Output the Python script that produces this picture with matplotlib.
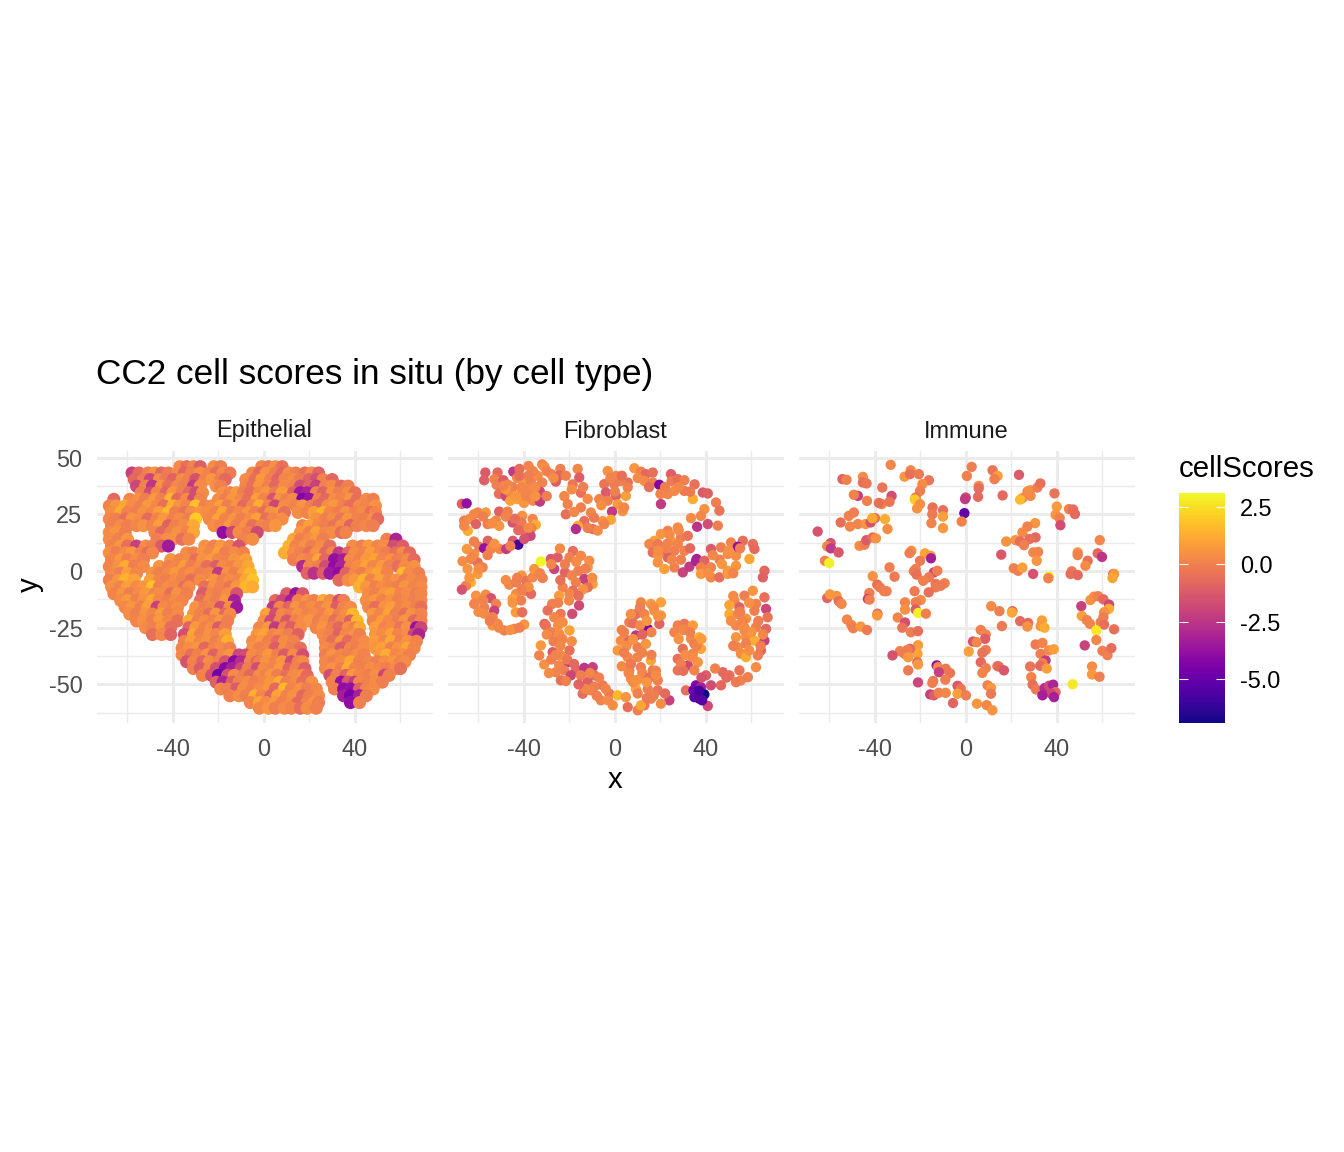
import matplotlib
matplotlib.use('Agg')
import matplotlib.pyplot as plt
from matplotlib.cm import ScalarMappable
from matplotlib.colors import Normalize

plt.rcParams['font.family'] = ['Liberation Sans', 'DejaVu Sans']
plt.rcParams['axes.unicode_minus'] = False

# Epithelial (y, then x and score of each cell)
epi_row_y = [46, 43.2, 40.3, 37.4, 34.5, 31.6, 28.7, 25.8, 22.9, 20, 17, 14, 11, 8, 5, 2, -1, -4, -7, -10, -13, -16, -19,
             -22, -25, -28, -31, -34, -37, -40, -43, -46, -49, -52, -55, -58, -60.5]
e01_x = [-37, -34, -31, -28, -22, -19, -1, 2, 5, 8]
e01_s = [.6, -.3, .4, -.8, .7, .2, .5, .1, .8, -.2]
e02_x = [-58, -55, -51, -48, -45, -42, -38, -35, -32, -28, -24, -21, -18, -15, -5, -2, 1, 5, 8, 11, 14, 18, 21, 24]
e02_s = [-1.8, -.4, .3, .8, -.5, .1, .6, -.6, .2, .7, .4, -.3, .6, .1, .5, -.4, .8, .2, -.5, .7, .3, -.2, .6, -.6]
e03_x = [-57, -53, -50, -46, -43, -40, -36, -33, -30, -26, -23, -19, -17, -8, -4, -1, 3, 6, 9, 13, 16, 20, 23, 26, 30]
e03_s = [-.5, .2, -1.6, .6, .1, -.6, .7, .3, -1.2, .4, .9, .2, -.4, .6, -.2, 1.0, .3, -.6, .5, .7, .1, -.7, -1.3, .4, -.5]
e04_x = [-56, -52, -49, -45, -42, -38, -35, -31, -28, -21, -19, -8, -5, -2, 2, 5, 9, 13, 16, 20, 23, 27, 30, 34, 37]
e04_s = [-1.6, .4, -2.2, .8, -.3, .5, .2, -2, .6, .7, .3, .5, -.2, .9, .3, -.5, .6, .4, -1.4, -.6, -1.8, .3, .6, -.4, .2]
e05_x = [-54, -50, -47, -43, -40, -36, -33, -30, -27, -18, -15, -12, -9, -6, -2, 1, 5, 8, 13, 16, 19, 23, 26, 30, 33, 37, 40]
e05_s = [.3, -1.5, .5, -.6, .9, .2, -.5, -1.4, .6, .8, .4, 1.0, .2, -.3, .6, .9, .1, 1.1, -.7, -3.2, -2.8, .4, -.6, .8, .2, .7, -.2]
e06_x = [-66, -59, -55, -52, -48, -45, -41, -38, -34, -31, -28, -20, -17, -14, -10, -7, -3, 0, 4, 7, 10, 13, 17, 20, 24, 27, 31, 34, 38, 41, 45, 48]
e06_s = [-.5, .5, .8, .2, 1.0, .3, 1.8, -.4, .6, -1.4, .4, .7, .2, .9, .5, -.2, 1.2, .4, -1.2, .8, .3, .6, -4, -3.4, .2, -.5, .7, .4, .9, -.3, .6, .2]
e07_x = [-68, -65, -61, -58, -54, -51, -47, -44, -40, -37, -34, -30, -26, -23, -19, -16, -12, -9, -5, -2, 2, 5, 9, 14, 17, 21, 24, 28, 31, 35, 38, 42, 45, 49]
e07_s = [.4, .9, 1.4, .6, .2, 1.0, .5, -.2, 1.6, .8, .4, 2.1, .3, .6, 1.2, .2, .8, -.4, .5, 1.6, .3, -1.6, .6, .4, .9, .2, -.5, .7, 1.0, .3, -.3, .6, .4, .8]
e08_x = [-67, -63, -60, -56, -53, -49, -46, -42, -39, -35, -32, -28, -25, -21, -18, -14, -11, -7, -4, 0, 3, 7, 9, 15, 19, 22, 26, 29, 33, 36, 40, 43, 47, 49]
e08_s = [.7, 1.5, .4, .2, .8, .5, 1.1, 1.9, .3, -.1, .6, .9, .7, .4, 1.4, .2, .5, .9, .3, -.3, .8, 1.0, -.2, .7, .4, 1.2, 1.7, .5, .2, .8, .3, .6, -.2, .4]
e09_x = [-68, -65, -61, -58, -54, -51, -47, -44, -40, -37, -33, -30, -24, -20, -17, -13, -10, -6, -3, 1, 4, 8, 23, 27, 30, 34, 37, 41, 44, 48, 50]
e09_s = [.5, .2, -.3, .9, .6, -.4, .4, 1.0, .3, .7, .2, 2.3, .5, 1.3, .4, .8, .2, .6, 1.2, -.3, .5, .7, .8, .3, .6, -.1, .9, .4, .2, .7, -.4]
e10_x = [-67, -63, -60, -56, -53, -49, -46, -42, -39, -35, -31, -22, -19, -15, -12, -8, -5, -1, 2, 5, 17, 20, 24, 27, 31, 34, 38, 41, 45, 48]
e10_s = [.3, .7, .2, .5, .8, .4, 1.1, -.7, .3, .6, 1.5, .7, .4, 1.0, .2, .8, -.2, .5, .3, .9, .4, 1.2, .6, .2, -.1, .7, -.6, .3, .5, .2]
e11_x = [-68, -65, -61, -48, -45, -41, -38, -34, -31, -18, -14, -11, -7, -3, 16, 20, 23, 27, 30, 34, 36]
e11_s = [.6, .9, .2, .5, -.5, .3, .8, .4, 1.4, -3.6, -1.6, .6, .2, -1.5, 1.0, .3, 1.2, .5, .7, -.3, .4]
e12_x = [-68, -64, -60, -47, -43, -40, -36, -33, -9, -5, 13, 16, 20, 23, 26, 54, 58]
e12_s = [.7, .3, .9, .2, .6, .8, -.2, .5, .4, .7, 1.4, .3, .6, 1.0, .2, .3, -2.8]
e13_x = [-67, -63, -60, -56, -52, -49, -45, -42, -26, -22, -19, -15, -11, 11, 14, 18, 21, 25, 29, 39, 43, 46, 50, 53, 57, 61]
e13_s = [.4, .9, -.2, -1.8, .6, .3, -.9, -3.2, .8, .3, 1.0, .5, -1.2, 1.7, .4, .8, .2, .6, -.3, .7, .2, 1.0, .4, .7, -1.4, -.8]
e14_x = [-68, -65, -61, -58, -54, -51, -49, -34, -31, -27, -24, -20, -17, -13, -9, 9, 13, 16, 20, 23, 27, 30, 33, 37, 40, 44, 47, 51, 54, 58, 61, 64]
e14_s = [.8, .2, .6, 1.0, .4, -.3, .5, .7, .3, .9, .5, 1.2, .2, .6, .4, 1.6, .7, .3, -.2, .8, -.4, .5, -2, -.6, .7, .4, 1.1, .5, .2, -.3, .6, -.4]
e15_x = [-67, -63, -60, -56, -53, -41, -37, -34, -30, -27, -23, -20, -16, -13, -8, 13, 17, 20, 24, 27, 31, 35, 38, 42, 45, 49, 52, 56, 59, 63, 66]
e15_s = [.5, 1.0, .3, .7, .2, .9, .4, .6, -.2, .8, 1.0, .5, .3, .9, 1.2, .2, .7, .4, 1.4, -.5, -3.5, -3, .6, .3, 1.0, 1.3, .5, .8, .2, .6, -.4]
e16_x = [-68, -64, -61, -57, -53, -46, -42, -39, -35, -32, -28, -25, -21, -18, -14, -11, -7, 17, 20, 24, 27, 31, 34, 38, 41, 45, 48, 52, 55, 59, 62, 66]
e16_s = [.4, .8, 1.5, .2, .6, .9, .3, .5, 1.1, .2, .7, -.3, -.8, .6, .4, .9, 1.4, -2.6, .5, .2, -1.4, -3.6, -2.8, .4, .7, 1.3, .5, 1.0, .3, -.2, .6, .8]
e17_x = [-67, -63, -60, -56, -49, -46, -42, -39, -35, -32, -28, -24, -20, -16, -13, -9, -6, 19, 22, 26, 29, 33, 36, 40, 43, 47, 50, 54, 61, 64, 68]
e17_s = [.6, .2, 1.2, .5, .8, .3, .6, 1.0, .4, .7, .2, .5, -2, .8, .3, 1.2, 1.8, -.6, -2.3, -.8, -3.2, -3.6, -.6, .5, .2, .9, 1.3, .4, 1.9, .6, .2]
e18_x = [-68, -64, -61, -57, -50, -46, -43, -39, -36, -32, -28, -22, -18, -15, -11, -8, -5, 33, 37, 40, 44, 47, 51, 55, 58, 62, 65, 69]
e18_s = [.3, .9, 1.7, 1.3, 1.2, .5, .2, .7, .4, -.2, .6, .9, .3, .7, .5, 1.4, 2.1, -.5, .6, 1.0, 1.8, .4, 1.2, .5, .8, .2, .6, .4]
e19_x = [-67, -63, -60, -56, -53, -49, -46, -42, -39, -35, -33, -26, -22, -19, -15, -12, -8, -5, 42, 45, 49, 52, 55, 59, 62, 66, 69]
e19_s = [.8, .4, 1.2, .6, .9, 2.1, .3, .7, .5, -.2, .6, -.2, .8, .4, -.1, .9, 1.8, 1.5, 1.7, 1.0, .3, .7, .5, .2, .9, .4, .6]
e20_x = [-66, -62, -59, -55, -52, -48, -46, -41, -38, -34, -27, -23, -20, -16, -12, 10, 14, 17, 46, 49, 53, 56, 60, 63, 67, 69]
e20_s = [.4, .9, .2, .6, 1.0, .5, .7, -.2, .8, .3, -.9, .5, .2, .7, -1.2, -.8, -3.4, -1, .6, .3, .9, 1.2, .4, .7, .2, .5]
e21_x = [-63, -60, -56, -53, -49, -46, -42, -39, -36, -28, -24, -21, -17, -13, 5, 8, 12, 15, 19, 22, 26, 29, 33, 35, 45, 49, 52, 56, 59, 63, 66, 69]
e21_s = [.6, 1.0, .3, .8, 1.4, .5, .2, .7, .4, -.3, .6, .2, .9, -3, -.4, -1.6, -3, .4, .8, .3, 1.5, .6, -1.2, .2, .7, 1.0, .4, .8, .3, .6, .2, .5]
e22_x = [-61, -58, -54, -51, -47, -44, -40, -38, -30, -26, -23, -19, -15, -12, 4, 7, 11, 14, 18, 21, 25, 28, 32, 35, 38, 46, 49, 53, 56, 60, 63, 67, 69]
e22_s = [.5, .9, .3, 1.2, -1.8, .6, .4, .7, .8, .2, .5, -1.3, .7, -3.2, -2, .4, -.6, .8, .3, .7, .2, .9, -.8, .4, .6, .5, -.3, .8, 1.1, .4, .7, .3, -.2]
e23_x = [-59, -56, -52, -49, -45, -42, -38, -31, -28, -24, -21, -17, -15, 1, 5, 8, 12, 15, 19, 22, 26, 29, 33, 36, 39, 48, 51, 55, 58, 62, 65, 69]
e23_s = [.7, .3, .9, .5, 1.1, .2, .6, .8, .4, -.3, .9, -.5, .6, 1.3, -1.4, .5, .2, .8, .4, .6, .3, 1.0, .2, .7, 1.8, 1.0, .5, 1.3, .3, -.2, .8, .4]
e24_x = [-56, -53, -49, -46, -42, -38, -33, -29, -26, -22, -19, -16, 0, 3, 7, 10, 14, 17, 20, 24, 27, 31, 34, 38, 41, 48, 52, 55, 59, 62, 66, 69]
e24_s = [.4, .8, .2, 1.0, .5, -.2, 1.5, .3, .7, .4, .9, .2, .8, -1.5, .5, -1, .3, .6, .9, .2, .7, -.3, .5, -.7, 1.8, .4, 1.1, .6, .2, .9, -.5, .3]
e25_x = [-52, -49, -45, -41, -33, -30, -26, -23, -20, -17, -2, 2, 5, 9, 12, 16, 23, 26, 30, 33, 37, 40, 42, 49, 53, 56, 60, 63, 67, 69]
e25_s = [.6, .3, .9, -.3, -.6, 1.0, .4, .7, -.9, .2, .5, 1.0, -2, .3, -.8, .6, .4, .9, .2, -.5, .7, .3, 1.4, 1.2, .4, .7, -.1, .8, -3.4, -1.6]
e26_x = [-49, -45, -41, -35, -31, -28, -24, -21, -17, -3, 0, 4, 7, 11, 15, 26, 29, 33, 36, 40, 42, 49, 52, 56, 59, 63, 66, 68]
e26_s = [-.2, .5, -.6, -1.3, 1.4, .3, .8, .5, 1.2, .9, 1.3, .4, .7, .2, -.7, .6, .3, -.7, .5, .8, .2, 1.0, .6, 1.3, .4, .7, -1.6, -2.8]
e27_x = [-35, -32, -28, -25, -21, -18, -16, -5, -1, 2, 6, 9, 13, 27, 30, 34, 37, 41, 44, 49, 53, 56, 60, 63, 67]
e27_s = [.4, 1.2, .5, .8, .2, .7, 1.7, .6, 1.0, .3, -.4, .7, .4, .5, -.2, .9, -.4, .3, .6, 1.1, .5, 1.4, .3, .8, .4]
e28_x = [-36, -33, -29, -26, -22, -19, -15, -5, -2, 2, 5, 9, 12, 16, 27, 31, 34, 38, 41, 44, 49, 52, 56, 59, 63, 66]
e28_s = [.3, .7, .9, -.5, .4, .6, .2, .8, .3, .5, -.8, .7, .2, -.3, .6, .3, -.9, .5, .2, .7, .9, 1.2, .3, .8, 1.4, .5]
e29_x = [-36, -32, -29, -25, -22, -18, -15, -11, -8, -5, -1, 2, 6, 9, 13, 17, 27, 30, 34, 37, 41, 44, 51, 54, 58, 61, 64]
e29_s = [.5, -.2, .3, .8, -.7, .5, .9, -1.6, -1.4, .7, .4, 1.0, .3, -.9, .6, -1.3, .2, .8, .5, .3, .7, .4, 1.0, 1.6, .5, .7, .3]
e30_x = [-34, -31, -27, -24, -20, -17, -13, -10, -6, -3, -2, 1, 5, 8, 12, 15, 17, 27, 31, 34, 38, 42, 46, 50, 53, 57, 60, 62]
e30_s = [-1.2, .4, -.6, .7, .3, -1.2, -3.8, -2.5, .5, -.6, .2, .8, .4, .9, -1.5, .3, .6, .5, .2, .7, 1.4, .3, .5, .2, .7, .9, .4, .6]
e31_x = [-31, -28, -24, -21, -17, -14, -10, -7, -3, 0, 4, 7, 11, 14, 18, 27, 30, 34, 37, 40, 44, 47, 51, 54, 58, 60]
e31_s = [.3, -.9, .5, -1.3, -3.8, -3, -1.5, .2, -1.4, .6, .4, 1.0, -.6, .3, -.8, .5, .8, .2, 1.6, .4, .3, .7, .5, .2, .6, -.2]
e32_x = [-27, -23, -20, -16, -13, -9, -6, -2, 1, 3, 6, 10, 13, 17, 19, 29, 32, 36, 39, 42, 46, 49, 53, 55]
e32_s = [.4, -1.3, -4.5, -1.2, .6, .3, -.5, .7, .4, .9, .2, -.3, .6, .8, -.4, -1.4, .3, -.6, 1.0, .5, .2, .7, -1.7, .3]
e33_x = [-21, -18, -14, -11, -7, -4, 0, 3, 7, 10, 14, 17, 21, 30, 34, 37, 40, 42, 46, 49, 52]
e33_s = [-.7, -2.8, -.8, .4, .7, .2, .5, .9, 1.6, .3, .6, -.3, .8, .4, -3.5, -1, -2, .5, .3, .7, .2]
e34_x = [-19, -16, -12, -9, -5, -2, 2, 5, 9, 12, 16, 19, 23, 31, 35, 38, 42, 45, 48]
e34_s = [.5, .2, -.9, .7, .3, .6, 1.0, -.4, 1.9, .4, .8, .2, .5, .3, -3.6, -3.5, -.8, .4, .6]
e35_x = [-15, -11, -8, -4, -1, 3, 6, 10, 13, 17, 20, 24, 35, 38, 42, 45]
e35_s = [.3, .7, .2, 1.6, .5, -.6, 1.3, .4, .8, -.5, .3, .6, -3, -4.2, -3, .2]
e36_x = [-6, -2, 1, 5, 8, 12, 15, 19, 22, 24, 38, 42]
e36_s = [.4, 1.4, .6, 1.0, .3, .7, -.5, .4, .8, .2, -3.6, .3]
e37_x = [-2, 2, 5, 9, 12, 16, 19, 23]
e37_s = [.5, .9, .2, .6, .4, -.3, .7, .3]

# Fibroblast, cluster by cluster
fib_a_x = [-57, -57.5, -51.6, -53, -52, -49, -44.7, -42, -38, -32, -31, -28, -24, -24.6, -26, -43, -40, -37, -34, -32, -45, -41, -37, -33, -51, -48, -43, -40, -36, -33, -38, -46]
fib_a_y = [43.4, 40, 43.4, 40.5, 38, 40, 43.8, 45, 46.3, 47, 46, 42.7, 45, 42, 39.4, 41, 39, 39.7, 42, 39, 37, 35, 36, 35, 34, 33, 31.7, 30, 31, 30.6, 33, 34.6]
fib_a_s = [-.9, -.8, -.4, .4, .2, -.8, -2, -.3, .4, .5, .7, .3, .3, -.6, -.8, .5, 1, .3, .6, .4, .2, .7, .5, -1.5, -.2, -1.5, 1.2, .9, .6, -2, .4, .3]
fib_b_x = [-21.6, -16.4, -15.7, -18.6, -22.3, -20.8, -21.6, -15, -12, -15, -13.5, -10.6, -16.4, -17.2, -9.8, -7.6, -5.4, -9.2]
fib_b_y = [42, 45, 41.2, 38.2, 33, 29.5, 25, 34.5, 31.8, 28, 22, 25.8, 19.9, 18.5, 18.5, 17.8, 22, 23.5]
fib_b_s = [.3, .5, -.8, 0, .5, .3, -.2, -.3, .6, .2, -.3, .5, 1.6, -2.5, -.2, .6, .9, .1]
fib_c_x = [-3.2, .4, -4.7, -.3, 5.6, -4, .4, 4.8, -6.9, -3.2, 1.2, -1.3, 3.4, -1.8, -4.7, 5.6, 2.6]
fib_c_y = [44.1, 41.9, 38.3, 38.3, 39, 34.6, 33.1, 33.1, 31.7, 31, 29.4, 26.2, 26.4, 22.6, 20.7, 36.9, 39.7]
fib_c_s = [.8, .5, -.1, .1, -.3, -.9, -.7, 1.2, .4, .3, 1, -2, .8, 1.4, .4, .3, .2]
fib_d_x = [8.5, 11.4, 13.6, 16.6, 12.9, 16.6, 19.5, 24.6, 24.9, 27.6, 30.5, 35, 26.1, 30.5, 23.2, 20.2, 38.6, 34.2, 40.8, 44.4, 39.3, 45.9, 37.8, 40.8, 45.2, 33.4, 36.1]
fib_d_y = [45.3, 43.8, 42.7, 43.4, 39.7, 39, 38, 42.7, 39.7, 40.5, 40, 38.2, 35.3, 35.3, 33.9, 29.5, 34.6, 31.7, 34.2, 30.2, 27.3, 26.6, 24.3, 20.7, 20, 23.3, 19.5]
fib_d_s = [.9, .3, -.5, -.2, .6, .2, -4, -.8, .1, -.3, .3, -.2, .6, .1, .5, -2, -.9, 1.5, -.7, .2, .8, -.1, .5, -1.4, .2, .6, -2.3]
fib_e_x = [27.6, 23.2, 20.2, 17.3, 15.1, 18.8, 24.6, 29, 32, 21.7, 26.1, 30.5, 16.6, 23.2, 18.8, 21.7, 26.1, 29.8, 32.7, 35.9, 35.6, 27.6]
fib_e_y = [19.2, 17.7, 16.3, 13.3, 11.9, 11.9, 13.3, 14.8, 15.5, 8.2, 8.9, 8.9, 8.2, 6, 3.8, .9, 1.6, -.6, 1.9, 5.3, 4.3, 11.9]
fib_e_s = [.7, .3, .9, 1.3, .5, .1, .9, .2, -.1, -.5, .2, .4, -.2, -.7, .8, 1.2, .3, -1.7, -2, -3, -2.8, .4]
fib_f_x = [42.2, 46.6, 51, 56.2, 60.6, 61.3, 49.6, 53.2, 59.1, 39.3, 53.2, 37.8, 42.2, 49.6, 37.8, 42.2, 45.9, 49.6, 65.7, 65, 54]
fib_f_y = [9.7, 10.4, 12.6, 13.3, 11.9, 9.7, 7.5, 6.7, 5.3, 4.5, 2.3, 1.6, 1.6, .1, -1.3, -2.8, -2.8, -1.3, .1, -2.8, 10.7]
fib_f_s = [-.9, .2, .5, -.3, -.2, -.4, .6, .7, 1.4, -.6, .9, .3, .4, 1.1, 1, .5, -.3, 1, -.5, -.7, -3.5]
fib_g_x = [60.6, 56.9, 65.7, 52.5, 50.3, 54.7, 62, 66.4, 50.3, 54, 61.3, 57.6, 67.1, 53.2, 56.9, 62, 66.4, 53.2, 57.6, 61.3, 65.7, 54, 57.6, 64.2, 55.4, 57.6, 62.8]
fib_g_y = [-8.7, -10.9, -11.6, -13, -15, -16, -14.5, -16.7, -19, -19, -17.5, -21, -20.4, -24, -26.2, -24.8, -25.5, -29.2, -29.2, -30.7, -30.7, -33.6, -32, -35, -36.5, -38, -37.2]
fib_g_s = [.9, .2, -.2, .5, 1.3, -.7, .3, -1.6, 1.5, .5, .2, .8, -.1, .5, .7, .3, -.5, .9, .6, 1.6, -1.8, .7, .3, -.5, .6, 1.5, .2]
fib_h_x = [27.6, 30.5, 34.2, 26.1, 33.4, 37.1, 29.8, 37.8, 34.9, 27.6, 36.4, 34.2, 27.6, 32, 34.9]
fib_h_y = [-24, -23.3, -24, -27, -29.9, -29.2, -34.3, -34.3, -32.1, -38.7, -40.2, -36.5, -43.8, -41.6, -43.8]
fib_h_s = [.3, .1, 1.1, .4, .6, 1.6, -.2, 1.3, .2, -.2, .9, .5, -.1, -1.5, .4]
fib_i_x = [35.6, 37.8, 36.4, 39.3, 37.1, 40.8, 31.2, 42.2, 46.6, 47.4, 50.3, 54.7, 55.4, 58.4, 62, 53.2, 34.9, 34.5, 37, 38.3]
fib_i_y = [-50.4, -51.2, -54.1, -54.4, -56.3, -59.5, -52.6, -50.4, -50.4, -44.6, -46, -43.8, -48.2, -46.8, -42.4, -49, -55.6, -52.6, -52.8, -57]
fib_i_s = [-4, -3, -5, -6.5, -5.5, -1.5, -.3, -1.4, -.5, -.5, -.2, -.1, .4, .2, .6, .1, -5, -4.5, -5.5, -5]
fib_j_x = [11.4, 15.8, 20.2, 9.2, 12.9, 17.3, 20.2, 6.3, 14.4, 19.5, 9.2, 2.6, 6.3, 1.2, 9.9, 13.6, 5.6, 9.9, 15.8, 6.3, 11.4, 16.6, 7, 12.9, 18.8, 9.2, 14.4, 18.8, 23.9, 20.2, 15.8, 12.9]
fib_j_y = [-13.8, -14.5, -13.8, -19, -19, -17.5, -19.6, -22.6, -25.5, -23.3, -28.4, -30.7, -30.7, -35, -33.6, -32.1, -38, -38, -39.4, -43.8, -42.4, -43.8, -47.5, -46.8, -48.2, -52, -52, -52.6, -57, -58.5, -56.3, -59.2]
fib_j_s = [.5, 1, 1.3, -.3, .4, .8, 1, .2, -4, -.6, -2.2, .7, -.4, 1, .2, .9, .5, .4, 1.4, .3, .2, .1, .8, -.1, .3, 1.3, .2, -.1, -1.8, .7, .3, -.1]
fib_k_x = [-66.3, -64, -60.3, -56.8, -50.9, -47.2, -52.3, -56, -61.1, -64.7, -66.3, -45, -40.8, -36.2, -34.8, -41.1, -50.9, -39.9, -42.5, -36.8, -37.1, -67.3, -65.2]
fib_k_y = [22.2, 22.9, 25.8, 25.8, 26.2, 26.2, 22.2, 20.7, 20.7, 17.7, 19.9, 21.4, 24.3, 22.9, 20.4, 21.4, 19.9, 17.7, 18, 18.9, 15.5, 29.6, 29.8]
fib_k_s = [.3, .6, .4, 1, -.7, .3, .5, .2, -.7, 1.5, .5, -1.2, .8, .5, 1.6, .1, .9, -.2, -.5, .3, -1.5, -.8, -3.5]
fib_l_x = [-65.1, -61.9, -59.7, -55.9, -57.5, -54.6, -50.7, -47.8, -44.9, -42.5, -39.9]
fib_l_y = [9.7, 7.5, 10.7, 13.3, 10, 9.7, 9.7, 9.7, 13.3, 11.6, 14.1]
fib_l_s = [1, .7, .3, -.7, -3.5, .4, .5, -2, -1, -5.5, -1.2]
fib_m_x = [-67, -63.3, -60.4, -58.2, -64.8, -60.4, -63.3, -65.5, -67.3]
fib_m_y = [4.3, 5.3, 3.8, 1.6, .9, -1.3, -5, -6.5, -8.2]
fib_m_s = [.7, .5, -.2, .3, .9, 1.1, 1.7, .3, -1.2]
fib_n_x = [-61.1, -56.8, -61.9, -57.5, -54.5, -52.3, -57.5, -53.1, -53.8, -51.6, -53.8, -48.7, -44.3, -39.9, -43.6, -40.8]
fib_n_y = [-10.9, -10.4, -14.5, -16, -12, -14.5, -18.8, -17.5, -20.4, -23.3, -24, -26.2, -25.5, -23.6, -18.2, -18.2]
fib_n_s = [.8, .7, .4, .2, -1.2, .3, .6, -1.8, .4, .5, .8, .3, .4, .9, 1.1, -.2]
fib_o_x = [-41, -46.5, -43.5, -39.1, -36.2, -31.8, -43.5, -39.9, -36.9, -45, -41.3]
fib_o_y = [-2, -6, -5, -4.3, -2.8, -3.1, -10.1, -8.7, -10.1, -12.3, -13]
fib_o_s = [1, .5, .2, -.1, .5, .3, .6, .1, -.4, 1.3, .2]
fib_p_x = [-32.6, -35.5, -28.2, -25.2, -26.7, -24.2, -18.5, -20, -11.3, -15, -22, -16.1, -12, -13.5, -17.2, -9.8, -23, -18.5, -12, -24.6, -20.2, -15.8, -27.6, -23.9, -18.8, -29.6, -31]
fib_p_y = [4.2, .9, 5.3, 6, .9, 9.9, 8.8, 6, 4.5, 6.7, -.6, .1, 1.6, -3.5, -5, -5.7, -7.2, -8.7, -7.2, -10.9, -13, -15.2, -14.5, -18.9, -18.9, -17.4, -23.3]
fib_p_s = [3.3, .9, -1, -.8, -1.7, .6, -.3, .3, .7, .5, -.6, .2, .9, -1.8, .3, 1.2, .4, -.3, -.2, 1.1, .5, -1.5, .3, .1, -1.4, -.2, -.5]
fib_q_x = [-26.7, -30.4, -23, -28.2, -24.5, -20, -24.5, -32.6, -33.3, -20, -27.4, -23.8, -20.8, -24.5, -31.1, -22.3, -26]
fib_q_y = [-20.4, -24, -22.6, -27, -27.7, -26.2, -32, -32.8, -37.2, -35, -35.8, -37.2, -40.2, -41.6, -41.2, -43.8, -44.6]
fib_q_s = [.5, -.2, .7, .2, .6, 1.3, .5, 1, .4, -.2, -.9, .6, -2, .5, .8, .2, .4]
fib_r_x = [-17.2, -19.4, -23.8, -21.6, -13.5, -9.8, -9.1, -5.4, -12, -9.1, -14.2, -10.6, -6.2, -2.5, -1, 1.2, 4.8, 5.6, 10, 11.4]
fib_r_y = [-43.4, -46, -48.2, -48.5, -42.7, -42.4, -46, -50.4, -48.9, -51, -54.1, -52.6, -57, -54.1, -59.2, -54.8, -55.6, -60, -61.4, -59.2]
fib_r_s = [-.5, -1.6, -.2, .3, -2.2, -1.8, -.3, .1, -.8, .2, -.3, .4, .5, -.1, .7, 1.8, .9, -.2, .2, 1.4]
fib_t_x = [-47, -42, -36, -30, -27, -48, -39, -35, -30, -46, -41, -35, -38, -49, -44, -19, -14, -18, -12, -2, 3, -6, 0, 4, 10, 15, 22, 28, 33, 20]
fib_t_y = [38, 42, 44, 44, 41, 36, 33, 37, 33, 31, 37, 33, 42, 37.5, 33, 36, 37, 26, 19, 41, 42, 29, 35, 28, 41, 37, 37, 37, 35, 34]
fib_t_s = [.5, -.2, .4, .3, .7, 1, .4, .6, .2, 1.2, .5, .8, .2, .4, .9, .6, .3, .5, .2, .4, -.2, .7, .3, .5, .6, -.3, .2, .5, .1, .4]
fib_u_x = [3, 5, 8, 11, 14, 17, 4, 8, 12, 16, 3, 7, 12, 15, 18, 8, 10, 14, 17, 6, 10, 14, 18, 22, 4, 7, 11, 16, 19, 12]
fib_u_y = [-26, -33, -23, -24, -22, -16, -36, -30, -36, -37, -42, -41, -45, -47, -44, -49, -54, -49, -55, -45, -48, -56, -46, -54, -27, -19, -16, -27, -20, -28]
fib_u_s = [.4, .7, -.3, .5, .9, .6, .2, .8, .4, .3, .6, .1, .5, -.2, .4, .7, .3, .9, .2, .5, .8, .1, .6, -.4, .3, .7, .2, .4, .8, -.6]
fib_v_x = [30, 33, 28, 36, 31, 29, 34, 30, 38, 52, 55, 59, 63, 51, 56, 60, 65, 52, 59, 64, 57, 49, 44, 40, 38, 24, 22, 19, 25, 29, 33, 19, 23, 28, 46, 50, 55, 43, 47, 52, 41]
fib_v_y = [-26, -27, -30, -33, -37, -41, -38, -44, -30, -11, -18, -14, -22, -22, -22, -27, -28, -33, -35, -33, -25, -47, -43, -46, -47, 16, 10, 7, 5, 5, 10, 9, 12, 18, 5, 9, 10, 7, 3, -1, -1]
fib_v_s = [.5, .2, .8, .4, .7, .3, .6, -.2, 1.1, .6, .3, .8, .2, .7, .4, .9, .5, .3, .7, .2, .6, -.4, .3, -.8, -1.2, .6, .3, .8, .5, .2, -.5, .7, .4, .6, .3, .8, .2, .5, .9, .4, .7]
fib_w_x = [-62, -58, -54, -48, -44, -38, -62, -53, -46, -63, -60, -56, -64, -58, -60, -55, -51, -46, -42, -48, -43, -38, -33, -45, -41]
fib_w_y = [25, 24, 21, 24, 23, 19, 13, 12, 11, 6, 1, 7, -3, -13, -18, -22, -25, -26, -25, -4, -3, -7, -1, -14, -8]
fib_w_s = [.5, .2, .7, .4, -.3, .6, .3, .8, .2, .5, .7, .3, .9, .4, .6, .2, .5, .8, .3, .6, .2, .7, .4, .9, .3]
fib_x_x = [-28, -22, -17, -13, -10, -24, -19, -14, -25, -20, -16, -30, -27, -23, -19, -28, -24, -21, -29, -26, -25, -15, -18, -13, -7, -3, -8, -4, -16, -11]
fib_x_y = [3, 3, 4, 1, -3, -4, -2, -8, -14, -10, -11, -28, -31, -30, -31, -39, -33, -39, -45, -37, -24, -46, -41, -52, -47, -57, -55, -52, -50, -45]
fib_x_s = [.5, .2, .6, .3, .7, -.2, .4, .8, .3, .5, -.3, .6, .2, .4, .7, .3, .5, .1, .6, .4, .7, .2, -.5, .5, .3, .6, .2, .4, -.6, .5]

# Immune, cluster by cluster
imm_a_x = [-33.1, -54.3, -52.5, -45.3, -45.3, -43.7, -36.8, -47.5, -49.3, -43.5, -32.7, -37, -38.3, -33.6]
imm_a_y = [46.8, 40.5, 40.2, 41.5, 39, 38.6, 36.8, 33.1, 33.6, 30.9, 33.1, 29.5, 30, 30.5]
imm_a_s = [.5, -.6, .3, .6, -.3, 0, 0, -1.8, .4, .3, -1.3, .5, -.2, 0]
imm_b_x = [-24.3, -27, -24.6, -20.7, -16.3, -19.2, -20.2, -22.1, -22.5, -20.2, -21.5, -14.7, -14.8, -15.2, -10.1, -10.1, -10.1]
imm_b_y = [44.4, 41.6, 42.7, 42.7, 40, 38.3, 35.3, 32.4, 31.5, 29.5, 27.6, 28, 25, 21.1, 26.8, 24, 18.9]
imm_b_s = [.5, 1, -.2, .1, 0, .7, .2, 0, 2.3, .7, .8, -.2, .1, .4, -.2, 1.2, 1]
imm_c_x = [-51.5, -49.3, -55.1, -51, -47.5, -44.1, -41.9, -40, -41.2, -35.6, -34.5, -65.2, -59.5, -61, -59.4, -56, -62, -60.1, -46.8, -44.6, -43.8, -41, -39.6]
imm_c_y = [24.3, 25.8, 21.4, 19.6, 20.7, 20.7, 21.4, 23.3, 23.3, 22.9, 18.5, 17.4, 12.3, 10.9, 10, 8.2, 4.5, 3.5, 11.1, 11.6, 13.6, 14.8, 14.4]
imm_c_s = [.3, .2, -.2, .5, .4, .9, -1.2, -.2, 1.5, 1.6, .7, -1.2, -1.2, .5, -2, -1, .4, 3.2, .7, .2, -.9, -.2, .8]
imm_d_x = [-24, -24.8, -18, -15.5, -15.4, -20.2, -22.1, -22.9, -21.7, -14.1, -12.6, -16.3, -18.8, -13.3, -13.3, -9.4, -11.1, -16.4, -22.6, -19.9, -22.1, -26.8, -26.8, -22.1, -21, -17.6, -30, -26.8, -28, -24.2, -21.1]
imm_d_y = [8.9, 7.9, 7.8, 6.7, 5.6, 4.5, .9, -.1, -1.6, -.6, .1, -2.8, -4.3, -5.7, -7.2, -5.4, -6.5, -9.4, -8.9, -12.8, -13.8, -13.8, -17, -17, -18.5, -18.8, -20.5, -22.7, -25, -27, -26.5]
imm_d_s = [.8, .2, 1.3, 1.1, -3, .1, .3, .1, -.2, -1.5, .2, .1, .3, -.1, .1, .3, .1, -.2, .1, .6, .2, .5, .8, -.9, 3.2, .3, .5, -1.3, -.1, .2, -.2]
imm_e_x = [-33.6, -41, -31.4, -39, -37.8, -36, -34.9, -42.5, -43.1, -42.4, -61, -59.8, -56.9, -55.9, -54.7, -52.3, -50.4, -49.6, -46.3, -43.5, -38.9, -39]
imm_e_y = [1.6, -2.3, -2.5, -6, -7.2, -8.9, -8.9, -9.7, -12.3, -12.6, -11.9, -10.3, -11, -13.3, -14.5, -21.4, -23.8, -25.2, -24.5, -26, -18.8, -19.6]
imm_e_s = [.2, .8, .1, -.2, .1, .3, .2, .2, -2, .3, -.6, 1, .9, -.2, .5, .5, .4, .2, 1, .1, -.3, 1]
imm_f_x = [-21.1, -21.3, -24.6, -25.8, -29, -27, -25.4, -32.3, -21.4, -21.1, -25.4, -21.1, -12.9, -12.3, -8.9, -7, -11.9, -14.4, -14.8, -9.1, -15.7, -14.1, -12, -8.9, -5.7, -3.7, -2.3, -3.7, 0, 4.8, 9.1, 11.6]
imm_f_y = [-32.7, -36.5, -34.3, -34.8, -35.3, -36.5, -38, -37.2, -40.2, -41.2, -43.8, -49.1, -41.6, -42.4, -43.1, -45, -44.6, -48.5, -49.3, -47.9, -54.4, -54.8, -53.7, -53.7, -58.2, -50.6, -51.9, -54.1, -54.8, -58.5, -59.1, -61.4]
imm_f_s = [1.1, 1.3, -.4, .2, .3, .1, 1, -1.2, -.2, 1, .1, -1.6, -3.5, .6, .1, 0, -1.8, 0, .2, .2, -1.9, -.8, .3, .5, -.6, -1, 0, 1.2, .2, .9, .5, .9]
imm_g_x = [11.1, 14.7, 20.4, 20.2, 15.8, 23.8, 27.3, 27, 33.4, 32.8, 34.5, 6.5, 8.7, 8.4, 3.1, 4.7, 1.2, 8.7, 7.2, 6.5, 8.7, 7.2, 13.8, 14.4, 16.7, 9.5, 11, 11]
imm_g_y = [-15.5, -17.7, -17.7, -18.3, -24.3, -22.1, -22.9, -24.5, -21.8, -24.3, -25, -26, -28, -29.9, -31.1, -31.4, -35.5, -34.8, -36, -40.2, -42.8, -44.9, -41.9, -42.1, -43.8, -50.4, -51.5, -54.1]
imm_g_s = [.6, .2, -.6, 1.4, .1, -.4, -.4, .8, 1.2, .9, 1.5, .3, .5, -.8, -1.2, .5, 1.2, .2, -.1, -.5, .3, .4, .2, -.4, -1, .3, 1, .1]
imm_h_x = [30.6, 33.6, 36.5, 38.6, 32.8, 35, 33.6, 32.6, 35.5, 28.2, 28.7, 29.3, 30.8, 34.6, 36.5, 38.3, 39.4, 37.5, 38.7, 33.6, 46.9]
imm_h_y = [-32.4, -31.7, -35, -34.5, -36.5, -39.4, -40.6, -41.8, -43, -42.1, -46.8, -50.1, -52.2, -51.6, -50.6, -50.1, -53.4, -54.1, -55.6, -54.8, -49.9]
imm_h_s = [.1, .4, .6, 1.2, .2, -2, .3, -.4, 1.2, -.1, .4, -.3, .1, -2.5, -1.5, -2.8, -.5, -1.5, -3, -3, 3]
imm_i_x = [54.7, 56.3, 58.1, 60.4, 62.9, 50.7, 62.8, 60.7, 60.4, 50.9, 53.1, 54.5, 59.2, 60.7, 65.1, 57.3, 57.3, 52.2, 60, 62.2, 63.9, 55.4, 55.4, 58.7]
imm_i_y = [-12.8, -11.3, -11.1, -12.5, -14.8, -15.5, -16.7, -18.2, -20.4, -19.8, -21.6, -23.3, -22.6, -23.6, -25.7, -26.2, -30.4, -32.8, -35.2, -37.1, -34, -42.1, -45.6, -46.6]
imm_i_s = [.9, .6, .3, -.4, -1.5, -1.8, 1.5, .8, .2, 1.2, .3, .4, .3, -.2, -.2, 3, .5, -1.7, .2, .3, -.3, .7, 1, .2]
imm_j_x = [2.5, .4, 11.7, 13.9, 12.5, 23.3, 5.6, 5.6, -.1, -.4, 5.3, 16.1, -.7, -1.9, 24.8, 23.8, 28.2, 27, 28.4, 31.4, 32.7, 38.9, 39.9, 39.4, 41.2, 41.5, 45.3, 47.1, 47.9]
imm_j_y = [45.9, 41.9, 44.4, 41.9, 40.5, 42.4, 37.5, 36.4, 32.4, 31.7, 32.7, 33.3, 25.5, 21.8, 32.1, 31.5, 35.6, 35, 33.1, 36.8, 38.6, 34.2, 28.4, 24.8, 23.3, 20.2, 27.3, 27.1, 25.1]
imm_j_s = [.2, .3, -.1, 1.2, .2, -.9, .6, -.3, -1.3, -2, -.4, -.4, -4.8, .4, .4, 1.9, .9, .7, .6, .2, -.2, -.1, 1.1, .9, .3, -1.4, .3, -.3, -.4]
imm_k_x = [30.4, 27, 24.8, 30.6, 27.9, 17.7, 21.8, 23.8, 25.5, 15.5, 29.6, 31.7, 31.1, 21, 22.9, 24.8, 29.5, 36.4, 36.2, 46.5, 46, 49.1, 49.1, 49.1, 53.5, 52.5, 57.9, 59.8, 58.8, 64.8, 65.1, 64.4]
imm_k_y = [21.1, 19.6, 17, 14.8, 14.1, 13, 13.6, 13, 11.4, 7.2, 8.2, 8.4, 4.5, 1.2, .1, 1.5, -1.3, -2.5, -3.2, -.1, -1.3, -1.8, 8.2, 7, 4.5, 2.3, 7.8, 6.2, 13.6, -1.3, -1.3, -3.1]
imm_k_s = [.9, .3, .6, -.4, -.3, .8, .9, -.3, .2, -1, .5, .4, .9, .3, .2, 1.2, -1.2, 3, .3, .2, -.2, -.4, .8, .3, -.2, .6, -.5, -2.2, .5, -1.5, 1, 1.4]

cell_types = ['Epithelial', 'Fibroblast', 'Immune']
x_major = [-40, 0, 40]
x_minor = [-60, -20, 20, 60]
y_major = [-50, -25, 0, 25, 50]
y_minor = [-62.5, -37.5, -12.5, 12.5, 37.5]
score_ticks = [-5.0, -2.5, 0.0, 2.5]
score_reading_offset = -0.3  # first reading of the orange cells came out a bit too light

epi_rows_x = [e01_x, e02_x, e03_x, e04_x, e05_x, e06_x, e07_x, e08_x, e09_x, e10_x, e11_x, e12_x, e13_x, e14_x, e15_x, e16_x, e17_x, e18_x, e19_x,
              e20_x, e21_x, e22_x, e23_x, e24_x, e25_x, e26_x, e27_x, e28_x, e29_x, e30_x, e31_x, e32_x, e33_x, e34_x, e35_x, e36_x, e37_x]
epi_rows_s = [e01_s, e02_s, e03_s, e04_s, e05_s, e06_s, e07_s, e08_s, e09_s, e10_s, e11_s, e12_s, e13_s, e14_s, e15_s, e16_s, e17_s, e18_s, e19_s,
              e20_s, e21_s, e22_s, e23_s, e24_s, e25_s, e26_s, e27_s, e28_s, e29_s, e30_s, e31_s, e32_s, e33_s, e34_s, e35_s, e36_s, e37_s]
epi_x, epi_y, epi_s = [], [], []
for row_y, row_x, row_s in zip(epi_row_y, epi_rows_x, epi_rows_s):
    if len(row_x) != len(row_s):
        print('row length differs at y =', row_y, len(row_x), len(row_s))
    for px, ps in zip(row_x, row_s):
        epi_x.append(px)
        epi_y.append(row_y)
        epi_s.append(ps)

fib_x = fib_a_x + fib_b_x + fib_c_x + fib_d_x + fib_e_x + fib_f_x + fib_g_x + fib_h_x + fib_i_x + fib_j_x + fib_k_x + fib_l_x + fib_m_x + fib_n_x + fib_o_x + fib_p_x + fib_q_x + fib_r_x + fib_t_x + fib_u_x + fib_v_x + fib_w_x + fib_x_x
fib_y = fib_a_y + fib_b_y + fib_c_y + fib_d_y + fib_e_y + fib_f_y + fib_g_y + fib_h_y + fib_i_y + fib_j_y + fib_k_y + fib_l_y + fib_m_y + fib_n_y + fib_o_y + fib_p_y + fib_q_y + fib_r_y + fib_t_y + fib_u_y + fib_v_y + fib_w_y + fib_x_y
fib_s = fib_a_s + fib_b_s + fib_c_s + fib_d_s + fib_e_s + fib_f_s + fib_g_s + fib_h_s + fib_i_s + fib_j_s + fib_k_s + fib_l_s + fib_m_s + fib_n_s + fib_o_s + fib_p_s + fib_q_s + fib_r_s + fib_t_s + fib_u_s + fib_v_s + fib_w_s + fib_x_s
imm_x = imm_a_x + imm_b_x + imm_c_x + imm_d_x + imm_e_x + imm_f_x + imm_g_x + imm_h_x + imm_i_x + imm_j_x + imm_k_x
imm_y = imm_a_y + imm_b_y + imm_c_y + imm_d_y + imm_e_y + imm_f_y + imm_g_y + imm_h_y + imm_i_y + imm_j_y + imm_k_y
imm_s = imm_a_s + imm_b_s + imm_c_s + imm_d_s + imm_e_s + imm_f_s + imm_g_s + imm_h_s + imm_i_s + imm_j_s + imm_k_s

panel_data = [(epi_x, epi_y, epi_s), (fib_x, fib_y, fib_s), (imm_x, imm_y, imm_s)]
marker_sizes = [24, 15, 15]  # epithelial is much denser in the original, so bigger dots close the rows
norm = Normalize(vmin=-6.9, vmax=3.1)

W, H = 1344, 1152
fig = plt.figure(figsize=(7, 6), dpi=192)
lefts = [97, 448, 799]
for i, name in enumerate(cell_types):
    ax = fig.add_axes([lefts[i] / W, 1 - 723 / H, 336 / W, 272 / H])
    xs, ys, ss = panel_data[i]
    ss = [v + score_reading_offset for v in ss]
    ax.scatter(xs, ys, c=ss, s=marker_sizes[i], cmap='plasma', norm=norm, linewidths=0, zorder=3)
    ax.set_xlim(-73.4, 74.3)
    ax.set_ylim(-67, 52.9)
    ax.set_xticks(x_major)
    ax.set_xticks(x_minor, minor=True)
    ax.set_yticks(y_major)
    ax.set_yticks(y_minor, minor=True)
    ax.grid(True, which='major', color='#EBEBEB', linewidth=1.07)
    ax.grid(True, which='minor', color='#EBEBEB', linewidth=0.53)
    ax.set_axisbelow(True)
    ax.tick_params(which='both', length=0)
    ax.tick_params(axis='x', labelsize=8.8, labelcolor='#4D4D4D', pad=5.5)
    ax.tick_params(axis='y', labelsize=8.8, labelcolor='#4D4D4D', pad=5.5, labelleft=(i == 0))
    for sp in ax.spines.values():
        sp.set_visible(False)
    fig.text((lefts[i] + 167) / W, 1 - 431 / H, name, ha='center', va='center', fontsize=8.8, color='#1A1A1A')

fig.text(96 / W, 1 - 375 / H, 'CC2 cell scores in situ (by cell type)', ha='left', va='center', fontsize=13.2)
fig.text(615.5 / W, 1 - 780 / H, 'x', ha='center', va='center', fontsize=11)
fig.text(30 / W, 1 - 585 / H, 'y', ha='center', va='center', rotation=90, fontsize=11)

# colour legend
cax = fig.add_axes([1179 / W, 1 - 723 / H, 46 / W, 230 / H])
cb = fig.colorbar(ScalarMappable(norm=norm, cmap='plasma'), cax=cax)
cb.outline.set_visible(False)
cb.set_ticks(score_ticks)
cb.set_ticklabels(['-5.0', '-2.5', '0.0', '2.5'])
cax.tick_params(axis='y', direction='in', length=3.4, width=0.4, color='white', left=True, right=True,
                labelsize=8.8, labelcolor='black', pad=5.6)
fig.text(1179 / W, 1 - 469 / H, 'cellScores', ha='left', va='center', fontsize=11)

fig.savefig('out.png', dpi=192)
